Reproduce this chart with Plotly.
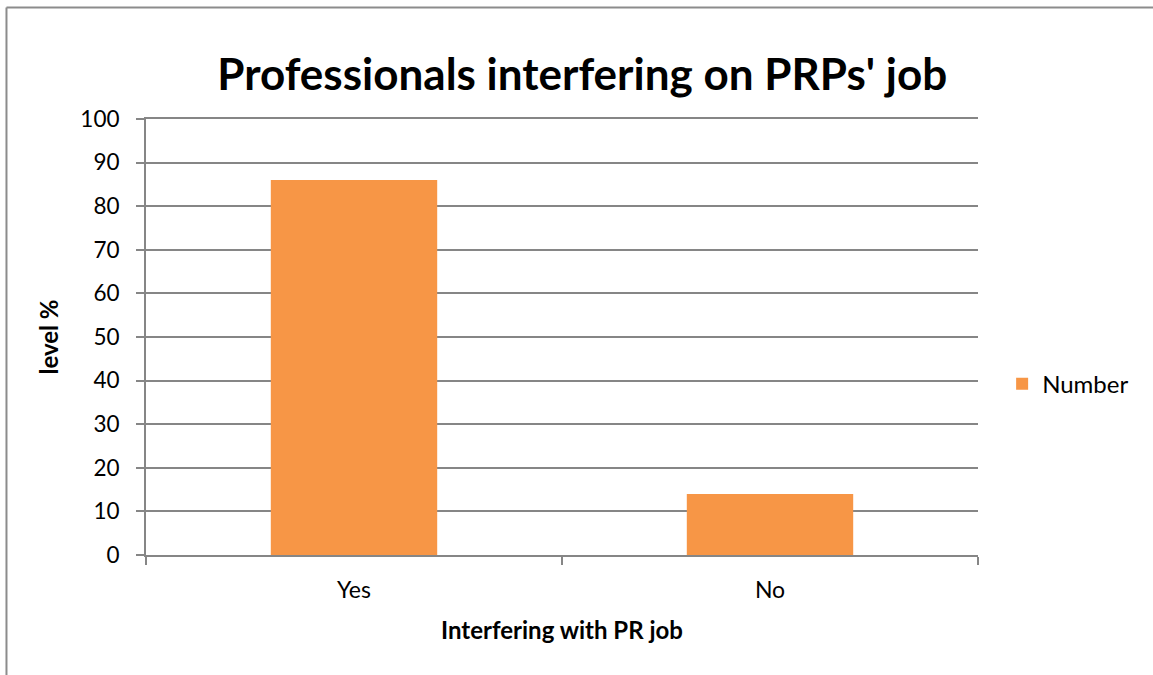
import plotly.graph_objects as go

# Survey answers: share of respondents (%)
categories = ["Yes", "No"]
values = [86, 14]
series_name = "Number"
y_ticks = list(range(0, 101, 10))

title_text = "Professionals interfering on PRPs' job"
x_title = "Interfering with PR job"
y_title = "level %"

bar_color = "#F79646"
grid_color = "#868686"
font_family = "Lato, 'Open Sans', sans-serif"

fig = go.Figure()
fig.add_trace(go.Bar(
    x=categories,
    y=values,
    name=series_name,
    marker=dict(color=bar_color, line=dict(width=0)),
    showlegend=True,
))

fig.update_layout(
    width=1153,
    height=675,
    margin=dict(l=146, r=175, t=119, b=120),
    paper_bgcolor="white",
    plot_bgcolor="white",
    font=dict(family=font_family, size=23, color="#000000"),
    bargap=0.6,
    title=dict(
        text="<b>" + title_text + "</b>",
        x=0.505, xref="container", xanchor="center",
        y=0.889, yanchor="middle",
        font=dict(size=44, family=font_family, color="#000000"),
    ),
    legend=dict(
        x=1.029, y=0.392, xanchor="left", yanchor="middle",
        font=dict(size=24),
        itemwidth=30,
        traceorder="normal",
        bgcolor="rgba(0,0,0,0)",
    ),
    xaxis=dict(
        type="category",
        showgrid=False,
        showline=True, linecolor=grid_color, linewidth=1.5,
        mirror=True,  # top edge doubles as the 100 gridline
        ticks="outside", tickson="boundaries", ticklen=8,
        tickcolor=grid_color, tickwidth=1.5,
        tickfont=dict(size=23),
        ticklabelstandoff=14,
        title=dict(text="<b>" + x_title + "</b>", font=dict(size=24), standoff=20),
    ),
    yaxis=dict(
        range=[0, 100],
        tickvals=y_ticks,
        showgrid=True, gridcolor=grid_color, gridwidth=1.5,
        showline=True, linecolor=grid_color, linewidth=2,
        ticks="outside", ticklen=8, tickcolor=grid_color, tickwidth=1.5,
        tickfont=dict(size=22.5),
        ticklabelstandoff=12,
        zeroline=False,
        title=dict(text="<b>" + y_title + "</b>", font=dict(size=24), standoff=15),
    ),
)

# Outer chart frame (left and top edges)
frame_color = "#8C8C8C"
fig.add_shape(type="line", xref="paper", yref="paper",
              x0=-0.1677, x1=-0.1677, y0=-0.28, y1=1.2557,
              line=dict(color=frame_color, width=2))
fig.add_shape(type="line", xref="paper", yref="paper",
              x0=-0.1677, x1=1.22, y0=1.2557, y1=1.2557,
              line=dict(color=frame_color, width=2))

fig.write_html("out.html")
